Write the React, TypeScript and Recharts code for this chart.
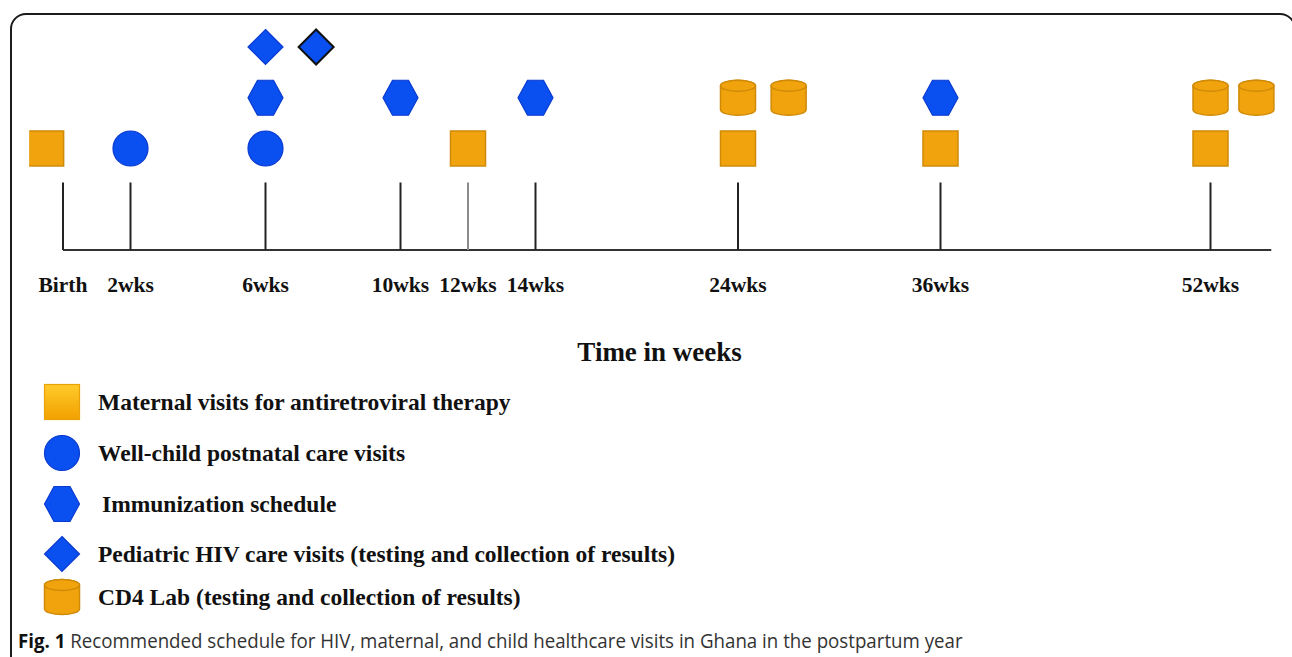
import React from 'react';
import {
  ComposedChart,
  Scatter,
  XAxis,
  YAxis,
  ReferenceLine,
  Legend,
} from 'recharts';

// timeline positions (schematic slots, not linear weeks)
const tickLabels = ['Birth', '2wks', '6wks', '10wks', '12wks', '14wks', '24wks', '36wks', '52wks'];
const tickSlots = [0, 1, 3, 5, 6, 7, 10, 13, 17];
const axisEnd = 17.9;
const tickTop = 1.33;

// visit markers: slot on the timeline + row
const maternalSlots = [-0.25, 6, 10, 13, 17];
const wellChildSlots = [1, 3];
const immunizationSlots = [3, 5, 7, 13];
const pediatricSlots = [3, 3.75];
const cd4Slots = [10, 10.75, 17, 17.68];

const maternalRow = 2;
const wellChildRow = 2;
const immunizationRow = 3;
const cd4Row = 3;
const pediatricRow = 4;

const legendNames = [
  'Maternal visits for antiretroviral therapy',
  'Well-child postnatal care visits',
  'Immunization schedule',
  'Pediatric HIV care visits (testing and collection of results)',
  'CD4 Lab (testing and collection of results)',
];

const toPoints = (slots: number[], row: number) => slots.map((x) => ({ x, y: row }));

const ORANGE = '#F0A30C';
const ORANGE_EDGE = '#CF8A08';
const BLUE = '#0A4FF0';
const BLUE_EDGE = '#0A3AD0';
const S = 17.5;

const serif = '"Liberation Serif", "Times New Roman", serif';

function Square({ cx, cy }: any) {
  return <rect x={cx - S} y={cy - S} width={S * 2} height={S * 2} fill={ORANGE} stroke={ORANGE_EDGE} strokeWidth={1.5} />;
}

function Circle({ cx, cy }: any) {
  return <circle cx={cx} cy={cy} r={S} fill={BLUE} stroke={BLUE_EDGE} strokeWidth={1.2} />;
}

function Hexagon({ cx, cy }: any) {
  const p = [
    [cx - S, cy],
    [cx - 8, cy - S],
    [cx + 8, cy - S],
    [cx + S, cy],
    [cx + 8, cy + S],
    [cx - 8, cy + S],
  ];
  return <polygon points={p.map((v) => v.join(',')).join(' ')} fill={BLUE} stroke={BLUE_EDGE} strokeWidth={1.2} />;
}

function Diamond({ cx, cy, index }: any) {
  const p = [
    [cx, cy - S],
    [cx + S, cy],
    [cx, cy + S],
    [cx - S, cy],
  ];
  const outlined = index === 1;
  return (
    <polygon
      points={p.map((v) => v.join(',')).join(' ')}
      fill={BLUE}
      stroke={outlined ? '#111' : BLUE_EDGE}
      strokeWidth={outlined ? 2 : 1.2}
    />
  );
}

function Cylinder({ cx, cy }: any) {
  const ry = 5.5;
  const top = cy - S + ry;
  const bot = cy + S - ry;
  return (
    <g>
      <path
        d={`M${cx - S},${top} L${cx - S},${bot} A${S},${ry} 0 0 0 ${cx + S},${bot} L${cx + S},${top} A${S},${ry} 0 0 0 ${cx - S},${top} Z`}
        fill={ORANGE}
        stroke={ORANGE_EDGE}
        strokeWidth={1.5}
      />
      <ellipse cx={cx} cy={top} rx={S} ry={ry} fill={ORANGE} stroke={ORANGE_EDGE} strokeWidth={1.5} />
    </g>
  );
}

const legendShapes = [Square, Circle, Hexagon, Diamond, Cylinder];
const legendRowY = [32, 83, 134, 184, 227];

function LegendIcon({ i }: { i: number }) {
  if (i === 0) {
    return (
      <svg width={40} height={40}>
        <defs>
          <linearGradient id="legendSq" x1="0" y1="0" x2="0" y2="1">
            <stop offset="0" stopColor="#FFCB2A" />
            <stop offset="1" stopColor="#F2A000" />
          </linearGradient>
        </defs>
        <rect x={2.5} y={2.5} width={35} height={35} fill="url(#legendSq)" stroke="#E9A20A" strokeWidth={1.2} />
      </svg>
    );
  }
  const Shape = legendShapes[i];
  return (
    <svg width={40} height={40}>
      <Shape cx={20} cy={20} index={0} />
    </svg>
  );
}

function LegendContent() {
  return (
    <div style={{ position: 'relative', width: 800, height: 250 }}>
      {legendNames.map((name, i) => (
        <div
          key={name}
          style={{
            position: 'absolute',
            left: 42,
            top: legendRowY[i] - 20,
            height: 40,
            display: 'flex',
            alignItems: 'center',
          }}
        >
          <LegendIcon i={i} />
          <span
            style={{
              marginLeft: i === 2 ? 20 : 16,
              fontFamily: serif,
              fontWeight: 'bold',
              fontSize: 23.5,
              color: '#111',
            }}
          >
            {name}
          </span>
        </div>
      ))}
    </div>
  );
}

export default function App() {
  return (
    <div
      style={{
        position: 'absolute',
        left: 0,
        top: 0,
        width: 1292,
        height: 657,
        overflow: 'hidden',
        background: '#fff',
      }}
    >
      <div
        style={{
          position: 'absolute',
          left: 10,
          top: 13,
          width: 1286,
          height: 700,
          boxSizing: 'border-box',
          border: '2px solid #1c1c1c',
          borderRadius: 16,
        }}
      />
      <div style={{ position: 'absolute', left: 0, top: 0 }}>
        <ComposedChart width={1292} height={657} margin={{ top: 21.6, right: 14, bottom: 347, left: 29.25 }}>
          <XAxis
            type="number"
            dataKey="x"
            domain={[-0.5, 18]}
            ticks={tickSlots}
            tickFormatter={(v: number) => tickLabels[tickSlots.indexOf(v)] ?? ''}
            axisLine={false}
            tickLine={false}
            tickSize={0}
            tickMargin={27}
            height={60}
            interval={0}
            allowDataOverflow
            tick={{ fill: '#111', fontFamily: serif, fontWeight: 'bold', fontSize: 21.5 }}
            label={{
              value: 'Time in weeks',
              position: 'bottom',
              offset: 32,
              dx: 6,
              fill: '#111',
              fontFamily: serif,
              fontWeight: 'bold',
              fontSize: 27,
            }}
          />
          <YAxis type="number" dataKey="y" domain={[0, 4.5]} hide allowDataOverflow />
          <ReferenceLine
            segment={[
              { x: 0, y: 0 },
              { x: axisEnd, y: 0 },
            ]}
            stroke="#333"
            strokeWidth={2}
          />
          {tickSlots.map((s, i) => (
            <ReferenceLine
              key={tickLabels[i]}
              segment={[
                { x: s, y: 0 },
                { x: s, y: tickTop },
              ]}
              stroke={tickLabels[i] === '12wks' ? '#8a8a8a' : '#222'}
              strokeWidth={2}
            />
          ))}
          <Scatter name={legendNames[0]} data={toPoints(maternalSlots, maternalRow)} shape={Square} isAnimationActive={false} />
          <Scatter name={legendNames[1]} data={toPoints(wellChildSlots, wellChildRow)} shape={Circle} isAnimationActive={false} />
          <Scatter name={legendNames[2]} data={toPoints(immunizationSlots, immunizationRow)} shape={Hexagon} isAnimationActive={false} />
          <Scatter name={legendNames[3]} data={toPoints(pediatricSlots, pediatricRow)} shape={Diamond} isAnimationActive={false} />
          <Scatter name={legendNames[4]} data={toPoints(cd4Slots, cd4Row)} shape={Cylinder} isAnimationActive={false} />
          <Legend
            layout="vertical"
            align="center"
            verticalAlign="middle"
            content={<LegendContent />}
            wrapperStyle={{ left: 0, top: 370, width: 800, height: 250 }}
          />
        </ComposedChart>
      </div>
      <div
        style={{
          position: 'absolute',
          left: 18,
          top: 627,
          fontFamily: '"Open Sans", sans-serif',
          fontSize: 20,
          color: '#333',
          whiteSpace: 'nowrap',
          transform: 'scaleX(0.935)',
          transformOrigin: 'left center',
        }}
      >
        <span style={{ fontWeight: 'bold', color: '#111' }}>Fig. 1</span> Recommended schedule for HIV, maternal, and child
        healthcare visits in Ghana in the postpartum year
      </div>
    </div>
  );
}
